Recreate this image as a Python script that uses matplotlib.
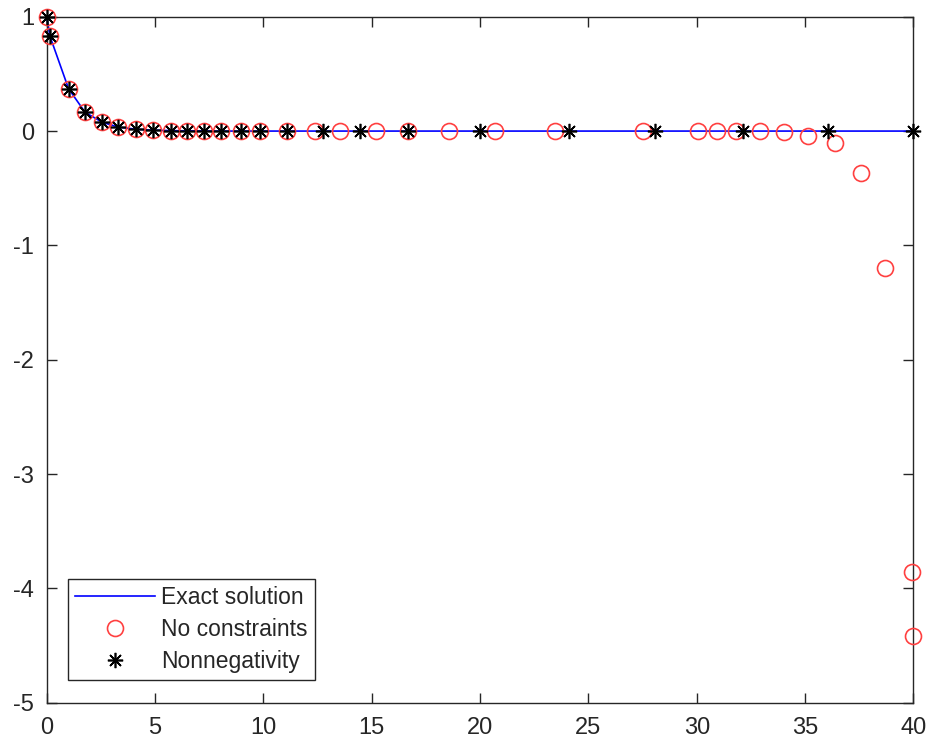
import numpy as np
import matplotlib
matplotlib.use('Agg')
import matplotlib.pyplot as plt

# values
exact_x = [0, 0.15, 1.01, 1.77, 2.55, 3.30, 4.12, 4.89, 5.72, 6.46, 7.26, 8.03, 8.95, 9.85,
           11.10, 12.38, 13.53, 15.20, 16.69, 18.56, 20.69, 23.46, 27.50, 30.07, 30.92, 31.81,
           32.92, 34.04, 35.15, 36.38, 37.56, 38.68, 39.92, 40.0]
exact_y = [1.0, 0.83, 0.37, 0.165, 0.078, 0.035, 0.016, 0.008, 0.004, 0.002, 0.001, 0.0, 0.0, 0.0,
           0.0, 0.0, 0.0, 0.0, 0.0, 0.0, 0.0, 0.0, 0.0, 0.0, 0.0, 0.0,
           0.0, 0.0, 0.0, 0.0, 0.0, 0.0, 0.0, 0.0]

free_x = exact_x
free_y = [1.0, 0.83, 0.37, 0.165, 0.078, 0.035, 0.016, 0.008, 0.004, 0.002, 0.001, 0.0, 0.0, 0.0,
          0.0, 0.0, 0.0, 0.0, 0.0, 0.0, 0.0, 0.0, 0.0, 0.0, 0.0, 0.0,
          -0.003, -0.012, -0.044, -0.108, -0.37, -1.20, -3.86, -4.42]

nonneg_x = [0, 0.15, 1.01, 1.77, 2.55, 3.30, 4.12, 4.89, 5.72, 6.46, 7.26, 8.03, 8.95, 9.85,
            11.10, 12.74, 14.46, 16.69, 20.00, 24.12, 28.07, 32.12, 36.07, 40.0]
nonneg_y = [1.0, 0.83, 0.37, 0.165, 0.078, 0.035, 0.016, 0.008, 0.004, 0.002, 0.001, 0.0, 0.0, 0.0,
            0.0, 0.0, 0.0, 0.0, 0.0, 0.0, 0.0, 0.0, 0.0, 0.0]

x_ticks = [0, 5, 10, 15, 20, 25, 30, 35, 40]
y_ticks = [-5, -4, -3, -2, -1, 0, 1]

plt.rcParams['font.family'] = ['Liberation Sans', 'DejaVu Sans']
plt.rcParams['axes.unicode_minus'] = False
axis_col = (0.15, 0.15, 0.15)

fig = plt.figure(figsize=(9.3, 7.44), dpi=100)
ax = fig.add_axes([0.0502, 0.0555, 0.932, 0.922])

ax.plot(exact_x, exact_y, color='blue', lw=1.2, label='Exact solution', zorder=2, clip_on=False)
ax.plot(free_x, free_y, linestyle='none', marker='o', markersize=11.5, markerfacecolor='none',
        markeredgecolor=(1, 0.25, 0.25), markeredgewidth=1.2, label='No constraints',
        zorder=3, clip_on=False)
ax.plot(nonneg_x, nonneg_y, linestyle='none', marker=(8, 2, 0), markersize=11,
        color='black', markeredgewidth=1.2, label='Nonnegativity', zorder=4, clip_on=False)

ax.set_xlim(0, 40)
ax.set_ylim(-5, 1)
ax.set_xticks(x_ticks)
ax.set_yticks(y_ticks)
ax.tick_params(direction='in', top=True, right=True, length=7, width=1,
               color=axis_col, labelcolor=axis_col, labelsize=17)
ax.tick_params(axis='x', pad=10)
ax.tick_params(axis='y', pad=9)
for s in ax.spines.values():
    s.set_color(axis_col)
    s.set_linewidth(1)

leg = ax.legend(loc='lower left', bbox_to_anchor=(0.025, 0.033), fontsize=16.5,
                handlelength=3.5, handletextpad=0.25, labelspacing=0.4,
                borderpad=0.3, fancybox=False, framealpha=1, borderaxespad=0)
leg.get_frame().set_edgecolor(axis_col)
leg.get_frame().set_linewidth(1)
for t in leg.get_texts():
    t.set_color(axis_col)

fig.savefig('out.png', dpi=100)
